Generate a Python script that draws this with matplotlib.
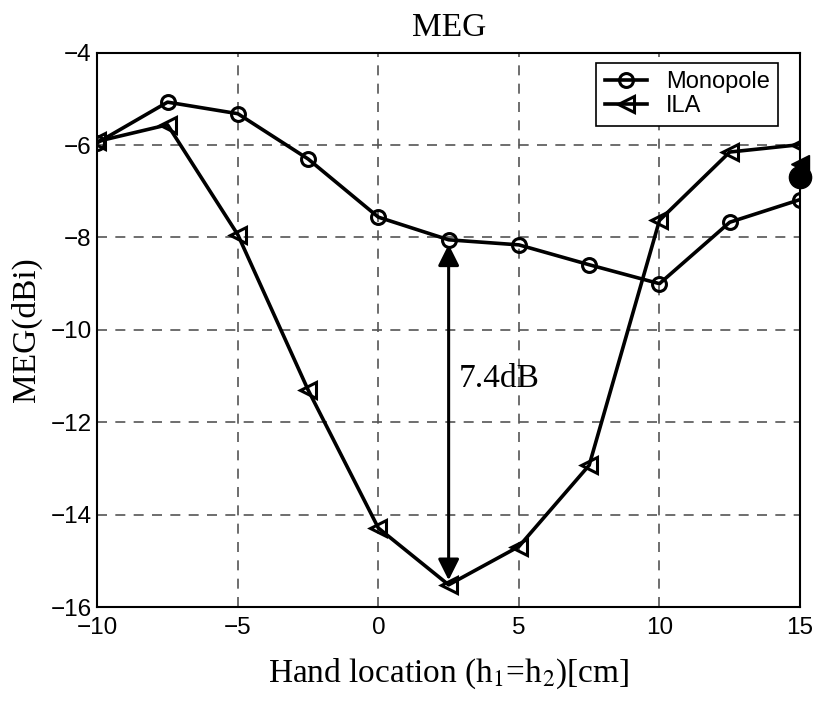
import matplotlib.pyplot as plt

plt.rcParams['mathtext.fontset'] = 'stix'

# hand location [cm]
x = [-10, -7.5, -5, -2.5, 0, 2.5, 5, 7.5, 10, 12.5, 15]

# MEG [dBi]
monopole = [-5.95, -5.07, -5.32, -6.30, -7.56, -8.05, -8.16, -8.59, -9.00, -7.67, -7.18]
ila = [-5.92, -5.56, -7.94, -11.30, -14.29, -15.52, -14.69, -12.93, -7.63, -6.15, -5.99]

# filled markers at the right edge
dot_x = [15]
dot_tri = [-6.4]
dot_circ = [-6.68]

# 7.4 dB difference arrow
arrow_x = 2.5
arrow_top = -8.05
arrow_bottom = -15.52
arrow_text = '7.4dB'

xticks = [-10, -5, 0, 5, 10, 15]
yticks = [-16, -14, -12, -10, -8, -6, -4]

fig = plt.figure(figsize=(8.16, 7.02), dpi=100)
ax = fig.add_axes([0.1192, 0.1353, 0.8612, 0.7896])

ax.plot(x, monopole, color='k', lw=2.6, marker='o', ms=10, mfc='none', mec='k', mew=2.2,
        label='Monopole', zorder=3)
ax.plot(x, ila, color='k', lw=2.6, marker='<', ms=11, mfc='none', mec='k', mew=2.2,
        label='ILA', zorder=3)

ax.plot(dot_x, dot_tri, marker='<', ms=13, color='k', ls='none', clip_on=False, zorder=4)
ax.plot(dot_x, dot_circ, marker='o', ms=16, color='k', ls='none', clip_on=False, zorder=4)

ax.annotate('', xy=(arrow_x, arrow_bottom + 0.1), xytext=(arrow_x, arrow_top - 0.1),
            arrowprops=dict(arrowstyle='<|-|>', color='k', lw=2.2,
                            mutation_scale=32, shrinkA=0, shrinkB=0), zorder=5)
ax.text(arrow_x + 0.35, -11.05, arrow_text, fontsize=24, family='Liberation Serif',
        va='center', ha='left')

ax.set_xlim(-10, 15)
ax.set_ylim(-16, -4)
ax.set_xticks(xticks)
ax.set_yticks(yticks)
ax.set_xticklabels([str(v).replace('-', '\u2212') for v in xticks],
                   family='Liberation Sans', fontsize=17.5)
ax.set_yticklabels([str(v).replace('-', '\u2212') for v in yticks],
                   family='Liberation Sans', fontsize=17.5)
ax.tick_params(direction='in', length=0)
ax.tick_params(axis='x', pad=7)
ax.tick_params(axis='y', pad=4)

ax.grid(True, color='#555555', ls=(0, (6, 5)), lw=1.2)
for s in ax.spines.values():
    s.set_linewidth(1.5)

ax.set_title('MEG', family='Liberation Serif', fontsize=24, pad=12)
ax.set_xlabel(r'Hand location (h$_1$=h$_2$)[cm]', family='Liberation Serif',
              fontsize=24, labelpad=13)
ax.set_ylabel('MEG(dBi)', family='Liberation Serif', fontsize=24, labelpad=6)

leg = ax.legend(loc='upper right', bbox_to_anchor=(0.969, 0.982),
                prop={'family': 'Liberation Sans', 'size': 17},
                fancybox=False, edgecolor='k', framealpha=1, handlelength=1.8,
                borderaxespad=0, labelspacing=0.1, handletextpad=0.8,
                borderpad=0.35)
leg.get_frame().set_linewidth(1.2)

fig.savefig('out.png', dpi=100)
